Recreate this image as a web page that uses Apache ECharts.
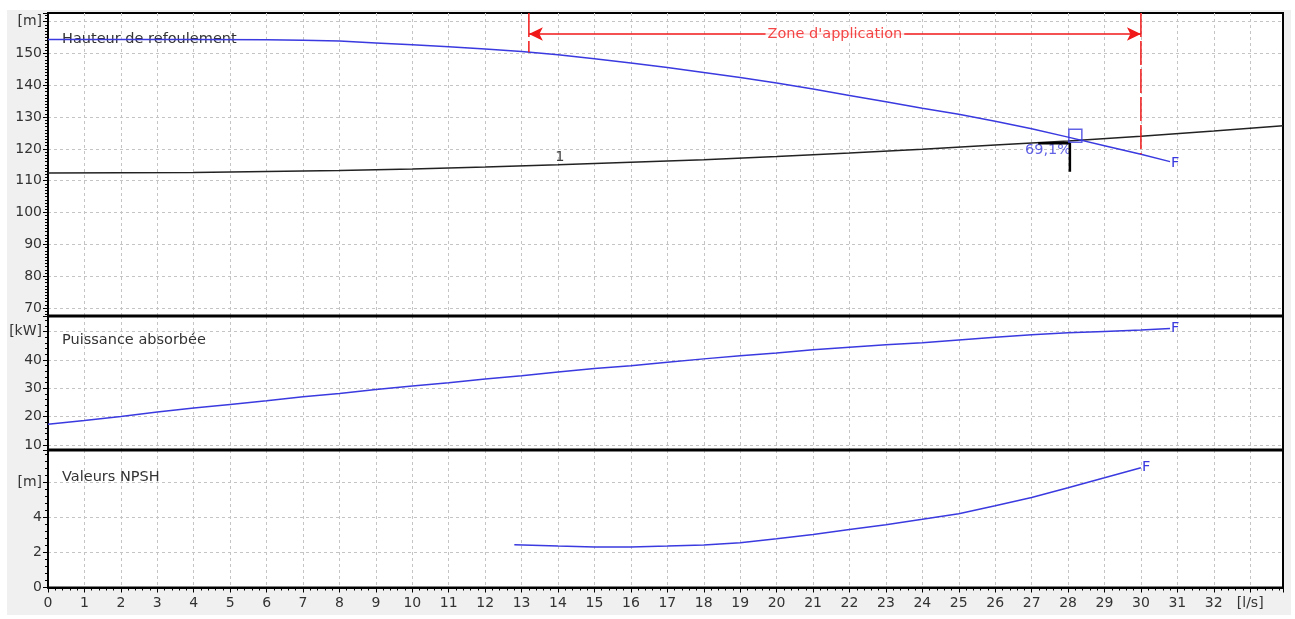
<!DOCTYPE html>
<html><head><meta charset="utf-8">
<script src="https://cdn.jsdelivr.net/npm/echarts@6/dist/echarts.min.js"></script>
<style>
html,body{margin:0;padding:0;background:#fff;width:1295px;height:619px;overflow:hidden}
#frame{position:absolute;left:7px;top:10px;width:1284px;height:605px;background:#f0f0f0}
#chart{position:absolute;left:0;top:0;width:1295px;height:619px}
</style></head><body><div id="frame"></div><div id="chart"></div>
<script>
// ---- data ----
const flowTickValues = [0,1,2,3,4,5,6,7,8,9,10,11,12,13,14,15,16,17,18,19,20,21,22,23,24,25,26,27,28,29,30,31,32,33];
const flowTickLabels = ['0','1','2','3','4','5','6','7','8','9','10','11','12','13','14','15','16','17','18','19','20','21','22','23','24','25','26','27','28','29','30','31','32','[l/s]'];
const headTickValues = [70,80,90,100,110,120,130,140,150,160];
const headTickLabels = ['70','80','90','100','110','120','130','140','150','[m]'];
const powerTickValues = [10,20,30,40,50];
const powerTickLabels = ['10','20','30','40','[kW]'];
const npshTickValues = [0,2,4,6];
const npshTickLabels = ['0','2','4','[m]'];

const headQ = [0,2,4,6,7,8,9,10,11,12,13,14,15,16,17,18,19,20,21,22,23,24,25,26,27,28,29,30,30.8];
const headH = [154.4,154.4,154.4,154.3,154.1,153.9,153.3,152.7,152.1,151.4,150.6,149.6,148.3,147.0,145.6,144.0,142.4,140.7,138.8,136.8,134.8,132.8,130.9,128.7,126.3,123.7,121.0,118.3,116.0];

const systemQ = [0,2,4,6,8,10,12,14,16,18,20,22,24,26,28,30,32,33.9];
const systemH = [112.4,112.5,112.6,112.9,113.2,113.7,114.3,115.0,115.8,116.6,117.6,118.7,119.9,121.2,122.5,124.0,125.6,127.3];

const powerQ = [0,1,2,3,4,5,6,7,8,9,10,11,12,13,14,15,16,17,18,19,20,21,22,23,24,25,26,27,28,29,30,30.8];
const powerP = [17.3,18.6,20.0,21.6,23.0,24.3,25.6,27.0,28.2,29.6,30.8,32.0,33.3,34.4,35.8,37.0,38.0,39.2,40.4,41.5,42.5,43.6,44.5,45.4,46.1,47.1,48.0,48.9,49.6,50.1,50.6,51.1];

const npshQ = [12.8,14,15,16,17,18,19,20,21,22,23,24,25,26,27,28,29,30];
const npshV = [2.45,2.37,2.32,2.32,2.37,2.43,2.56,2.79,3.03,3.31,3.59,3.9,4.22,4.67,5.15,5.7,6.27,6.85];

const zoneQ = [13.2, 30];            // limits of "Zone d'application"
const zoneLineBottom = [150.4, 118.3];
const zoneArrowH = 156.1;
const zoneText = "Zone d'application";

const dutyPoint = [28.2, 124.1];     // square marker
const dutyTickQ = [27.18, 28.05, 28.05];
const dutyTickH = [121.75, 121.75, 112.8];
const efficiencyLabel = '69,1%';
const efficiencyPos = [27.45, 119.6];
const systemLabel = '1';
const systemLabelPos = [14.05, 117.4];

const flowMax = 33.9;
const headRange = [67.5, 162.7];
const powerRange = [8.2, 55.55];
const npshRange = [0, 7.86];

// ---- chart ----
const blue = '#3a3ae0';
const red = '#f01818';
const labelColor = '#333';
const font = '"DejaVu Sans", Verdana, sans-serif';
const fs = 14;      // axis labels
const ts = 14.5;    // annotations / panel titles
const pairs = (xs, ys) => xs.map((x, i) => [x, ys[i]]);
const near = (a, b) => Math.abs(a - b) < 1e-6;
const fmt = (vals, labels) => v => { const i = vals.findIndex(t => near(t, v)); return i < 0 ? '' : labels[i]; };
const splitStyle = {color: '#c4c4c4', type: [3, 3], width: 1};

function xAxis(gi, show) {
  return {
    type: 'value', gridIndex: gi, min: 0, max: flowMax, interval: 1,
    axisLine: {show: show, onZero: false, lineStyle: {color: '#000', width: 2}},
    axisTick: {show: show, length: 5, lineStyle: {color: '#000', width: 1}},
    minorTick: {show: show, splitNumber: 5, length: 3, lineStyle: {color: '#000'}},
    axisLabel: {show: show, margin: 9, color: labelColor, fontSize: fs, fontFamily: font,
      formatter: fmt(flowTickValues, flowTickLabels)},
    splitLine: {show: true, showMinLine: false, showMaxLine: false, lineStyle: splitStyle}
  };
}
function yAxis(gi, range, split, minor, vals, labels) {
  return {
    type: 'value', gridIndex: gi, min: range[0], max: range[1], splitNumber: split,
    axisLine: {show: true, onZero: false, lineStyle: {color: '#000', width: 2}},
    axisTick: {show: true, length: 5, lineStyle: {color: '#000'}},
    minorTick: {show: true, splitNumber: minor, length: 3, lineStyle: {color: '#000'}},
    axisLabel: {margin: 6, color: labelColor, fontSize: fs, fontFamily: font, formatter: fmt(vals, labels)},
    splitLine: {show: true, showMinLine: false, showMaxLine: false, lineStyle: splitStyle}
  };
}
const gridBase = {left: 48, width: 1235, show: true, backgroundColor: '#fff', borderColor: '#000', borderWidth: 2};

const frameStyle = {stroke: '#000', lineWidth: 3};
const option = {
  animation: false,
  backgroundColor: 'transparent',
  grid: [
    Object.assign({top: 13, height: 303}, gridBase),
    Object.assign({top: 316, height: 134}, gridBase),
    Object.assign({top: 450, height: 137.5}, gridBase)
  ],
  xAxis: [xAxis(0, false), xAxis(1, false), xAxis(2, true)],
  yAxis: [
    yAxis(0, headRange, 10, 10, headTickValues, headTickLabels),
    yAxis(1, powerRange, 5, 5, powerTickValues, powerTickLabels),
    yAxis(2, npshRange, 4, 5, npshTickValues, npshTickLabels)
  ],
  graphic: [
    {type: 'text', left: 62, top: 32, z: 1, style: {text: 'Hauteur de refoulement', fill: '#333', font: ts + 'px ' + font}},
    {type: 'text', left: 62, top: 333, z: 1, style: {text: 'Puissance absorbée', fill: '#333', font: ts + 'px ' + font}},
    {type: 'text', left: 62, top: 470, z: 1, style: {text: 'Valeurs NPSH', fill: '#333', font: ts + 'px ' + font}},
    {type: 'line', z: 50, shape: {x1: 47, y1: 316, x2: 1284, y2: 316}, style: frameStyle},
    {type: 'line', z: 50, shape: {x1: 47, y1: 450, x2: 1284, y2: 450}, style: frameStyle}
  ],
  series: [
    {type: 'line', xAxisIndex: 0, yAxisIndex: 0, data: pairs(systemQ, systemH), showSymbol: false, symbol: 'none',
      lineStyle: {color: '#222', width: 1.5}},
    {type: 'line', xAxisIndex: 0, yAxisIndex: 0, data: pairs(headQ, headH), showSymbol: false, symbol: 'none',
      lineStyle: {color: blue, width: 1.5},
      endLabel: {show: true, formatter: 'F', color: blue, fontSize: ts, fontFamily: font, distance: 1, offset: [0, 2]}},
    // zone limits
    {type: 'line', xAxisIndex: 0, yAxisIndex: 0, data: [[zoneQ[0], headRange[1]], [zoneQ[0], zoneLineBottom[0]]],
      symbol: 'none', lineStyle: {color: red, width: 1.5, type: [24, 4]}},
    {type: 'line', xAxisIndex: 0, yAxisIndex: 0, data: [[zoneQ[1], headRange[1]], [zoneQ[1], zoneLineBottom[1]]],
      symbol: 'none', lineStyle: {color: red, width: 1.5, type: [24, 4]}},
    {type: 'line', xAxisIndex: 0, yAxisIndex: 0, data: [], symbol: 'none',
      markLine: {silent: true, symbol: ['arrow', 'arrow'], symbolSize: [10, 14],
        lineStyle: {color: red, width: 1.5, type: 'solid'}, label: {show: false},
        data: [[{coord: [zoneQ[0], zoneArrowH]}, {coord: [zoneQ[1], zoneArrowH]}]]}},
    {type: 'scatter', xAxisIndex: 0, yAxisIndex: 0, symbolSize: 0, data: [[(zoneQ[0] + zoneQ[1]) / 2, zoneArrowH]],
      label: {show: true, position: 'inside', formatter: zoneText, color: red, fontSize: ts, fontFamily: font,
        backgroundColor: '#fff', padding: [1, 2]}, z: 5},
    // duty point
    {type: 'line', xAxisIndex: 0, yAxisIndex: 0, data: pairs(dutyTickQ, dutyTickH), symbol: 'none',
      lineStyle: {color: '#000', width: 2.5}},
    {type: 'scatter', xAxisIndex: 0, yAxisIndex: 0, symbol: 'rect', symbolSize: 13, data: [dutyPoint],
      itemStyle: {color: 'rgba(0,0,0,0)', borderColor: blue, borderWidth: 1.5}, z: 4},
    {type: 'scatter', xAxisIndex: 0, yAxisIndex: 0, symbolSize: 0, data: [efficiencyPos],
      label: {show: true, position: 'inside', formatter: efficiencyLabel, color: blue, fontSize: ts, fontFamily: font}},
    {type: 'scatter', xAxisIndex: 0, yAxisIndex: 0, symbolSize: 0, data: [systemLabelPos],
      label: {show: true, position: 'inside', formatter: systemLabel, color: '#111', fontSize: ts, fontFamily: font}},
    // power
    {type: 'line', xAxisIndex: 1, yAxisIndex: 1, data: pairs(powerQ, powerP), showSymbol: false, symbol: 'none',
      lineStyle: {color: blue, width: 1.5},
      endLabel: {show: true, formatter: 'F', color: blue, fontSize: ts, fontFamily: font, distance: 1}},
    // NPSH
    {type: 'line', xAxisIndex: 2, yAxisIndex: 2, data: pairs(npshQ, npshV), showSymbol: false, symbol: 'none',
      lineStyle: {color: blue, width: 1.5},
      endLabel: {show: true, formatter: 'F', color: blue, fontSize: ts, fontFamily: font, distance: 1}}
  ]
};
const chart = echarts.init(document.getElementById('chart'));
chart.setOption(option);
</script></body></html>
